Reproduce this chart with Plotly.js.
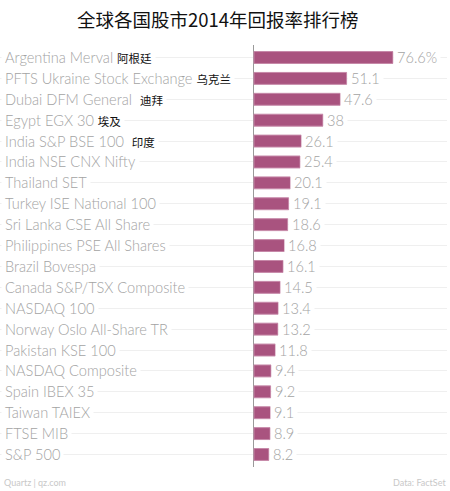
<!DOCTYPE html>
<html>
<head>
<meta charset="utf-8">
<script src="https://cdn.plot.ly/plotly-3.0.1.min.js"></script>
<style>html,body{margin:0;padding:0;background:#fff;}#chart{width:450px;height:491px;}</style>
</head>
<body>
<div id="chart"></div>
<script>
const indexNames = ["Argentina Merval","PFTS Ukraine Stock Exchange","Dubai DFM General","Egypt EGX 30","India S&P BSE 100","India NSE CNX Nifty","Thailand SET","Turkey ISE National 100","Sri Lanka CSE All Share","Philippines PSE All Shares","Brazil Bovespa","Canada S&P/TSX Composite","NASDAQ 100","Norway Oslo All-Share TR","Pakistan KSE 100","NASDAQ Composite","Spain IBEX 35","Taiwan TAIEX","FTSE MIB","S&P 500"];
const chineseNotes = ["阿根廷","乌克兰","迪拜","埃及","印度","","","","","","","","","","","","","","",""];
const notePads = [" ",""," ㅤ".slice(0,1)+" "," ","  ","","","","","","","","","","","","","","",""];
const returns2014 = [76.6,51.1,47.6,38,26.1,25.4,20.1,19.1,18.6,16.8,16.1,14.5,13.4,13.2,11.8,9.4,9.2,9.1,8.9,8.2];
const valueLabels = ["76.6%","51.1","47.6","38","26.1","25.4","20.1","19.1","18.6","16.8","16.1","14.5","13.4","13.2","11.8","9.4","9.2","9.1","8.9","8.2"];
const titleText = "全球各国股市2014年回报率排行榜";
const sourceLeft = "Quartz | qz.com";
const sourceRight = "Data: FactSet";

const labelFont = "Lato, 'DejaVu Sans', sans-serif";
const cjkFont = "'Noto Sans CJK SC', sans-serif";
const grey = "#a3a3a3";

const annotations = [];
indexNames.forEach((name, i) => {
  let txt = name;
  if (chineseNotes[i]) {
    txt += (notePads[i] || " ") + '<span style="color:#111;font-size:11.5px;font-family:Noto Sans CJK SC;font-weight:400">' + chineseNotes[i] + '</span>';
  }
  annotations.push({
    xref: 'paper', yref: 'y', x: 0, y: name, xanchor: 'left', yanchor: 'middle',
    xshift: 1, text: txt, showarrow: false, bgcolor: '#ffffff', borderpad: 3,
    font: {family: labelFont, size: 14.6, color: grey, weight: 300}
  });
  annotations.push({
    xref: 'x', yref: 'y', x: returns2014[i], y: name, xanchor: 'left', yanchor: 'middle',
    xshift: 0, text: valueLabels[i], showarrow: false, bgcolor: '#ffffff', borderpad: 3,
    font: {family: labelFont, size: 14.6, color: grey, weight: 300}
  });
});
annotations.push({xref:'paper', yref:'paper', x:0, y:0, xanchor:'left', yanchor:'bottom', yshift:-23, xshift:2,
  text: sourceLeft, showarrow:false, font:{family:labelFont, size:9, color:'#c8c8c8'}});
annotations.push({xref:'paper', yref:'paper', x:1, y:0, xanchor:'right', yanchor:'bottom', yshift:-23, xshift:1,
  text: sourceRight, showarrow:false, font:{family:labelFont, size:9, color:'#c8c8c8'}});

const trace = {
  type: 'bar', orientation: 'h', x: returns2014, y: indexNames,
  marker: {color: '#a9537f', line: {color: '#c688a8', width: 1}},
  hoverinfo: 'skip'
};

const layout = {
  width: 450, height: 491,
  margin: {l: 0, r: 3, t: 45, b: 24},
  paper_bgcolor: '#ffffff', plot_bgcolor: '#ffffff',
  bargap: 0.43,
  showlegend: false,
  title: {text: titleText, x: 0.484, xanchor: 'center', y: 0.959, yanchor: 'middle',
    font: {family: cjkFont, size: 18.5, color: '#111111'}},
  xaxis: {range: [-140, 106.4], showgrid: false, zeroline: true, zerolinecolor: '#9a9a9a', zerolinewidth: 1,
    showticklabels: false, ticks: '', fixedrange: true},
  yaxis: {type: 'category', autorange: 'reversed', showgrid: true, gridcolor: '#efefef', gridwidth: 1,
    showticklabels: false, ticks: '', zeroline: false, fixedrange: true},
  annotations: annotations
};

Plotly.newPlot('chart', [trace], layout, {displayModeBar: false, staticPlot: true});
</script>
</body>
</html>
